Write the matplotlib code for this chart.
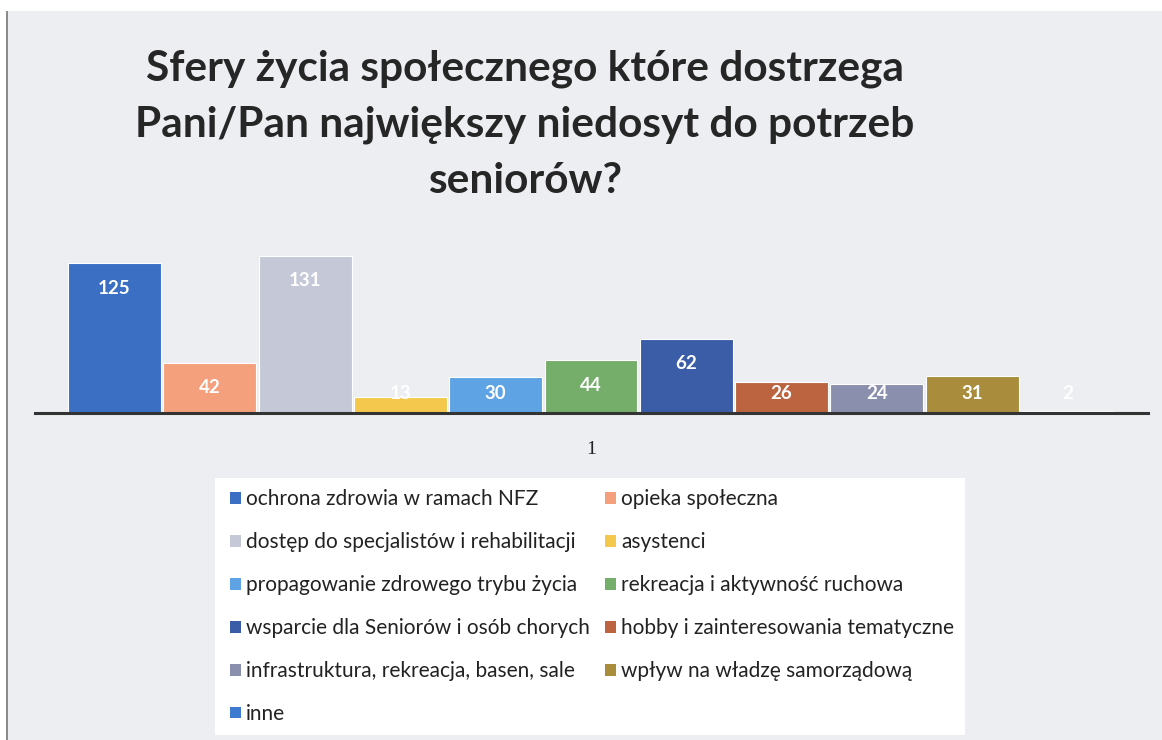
"""
Wykres słupkowy: sfery życia społecznego, w których seniorzy widzą niedosyt.
Zapisuje out.png.
"""
import matplotlib.pyplot as plt
from matplotlib.patches import Patch, Rectangle
import numpy as np

# dane
kategorie = [
    'ochrona zdrowia w ramach NFZ',
    'opieka społeczna',
    'dostęp do specjalistów i rehabilitacji',
    'asystenci',
    'propagowanie zdrowego trybu życia',
    'rekreacja i aktywność ruchowa',
    'wsparcie dla Seniorów i osób chorych',
    'hobby i zainteresowania tematyczne',
    'infrastruktura, rekreacja, basen, sale',
    'wpływ na władzę samorządową',
    'inne',
]
wartosci = [125, 42, 131, 13, 30, 44, 62, 26, 24, 31, 2]
kolory = ['#3a6fc4', '#f4a07c', '#c5c8d6', '#f3c84c', '#5ea3e3', '#75ad6a',
          '#3b5ca6', '#bc6440', '#8b8fae', '#a98d3c', '#3d7ad0']
etykieta_osi = '1'
tytul = 'Sfery życia społecznego które dostrzega\nPani/Pan największy niedosyt do potrzeb\nseniorów?'

W, H = 1162, 740
fig = plt.figure(figsize=(W / 100, H / 100), dpi=100)
fig.patch.set_facecolor('white')

# tło slajdu
fig.add_artist(Rectangle((6 / W, 0), 1, 1 - 11 / H, transform=fig.transFigure,
                         facecolor='#eceef2', edgecolor='none', zorder=-5))
fig.add_artist(Rectangle((6 / W, 0), 1.5 / W, 1 - 11 / H, transform=fig.transFigure,
                         facecolor='#8a8a8a', edgecolor='none', zorder=-4))

fig.text(525 / W, 1 - 50 / H, tytul, ha='center', va='top', fontsize=30.5,
         fontweight='bold', family='Lato', color='#262626', linespacing=1.56)

# wykres
ax = fig.add_axes([35 / W, (H - 413) / H, 1113 / W, 173 / H])
ax.set_facecolor('none')
x = np.arange(len(wartosci))
bars = ax.bar(x, wartosci, width=0.975, color=kolory, edgecolor='white', linewidth=0.8)
ax.set_xlim(-0.834, len(wartosci) - 1 + 0.845)
ax.set_ylim(0, 144)

for xi, v in zip(x, wartosci):
    ax.text(xi, max(v - 21, 16), str(v), ha='center', va='center', color='white',
            fontsize=13.5, fontweight='bold', family='Lato')

for s in ['top', 'right', 'left']:
    ax.spines[s].set_visible(False)
ax.spines['bottom'].set_color('#333333')
ax.spines['bottom'].set_linewidth(2.2)
ax.set_yticks([])
ax.set_xticks([(len(wartosci) - 1) / 2])
ax.set_xticklabels([etykieta_osi], family='Liberation Serif', fontsize=14, color='#222222')
ax.tick_params(axis='x', length=0, pad=20)

# legenda - kolejność wierszami, matplotlib wypełnia kolumnami
uchwyty = [Patch(facecolor=k, edgecolor='none') for k in kolory]
kol1 = list(range(0, len(kategorie), 2))
kol2 = list(range(1, len(kategorie), 2))
kolejnosc = kol1 + kol2
fig.add_artist(Rectangle((215 / W, 5 / H), 750 / W, 257 / H, transform=fig.transFigure,
                         facecolor='white', edgecolor='none', zorder=-3))
leg = fig.legend([uchwyty[i] for i in kolejnosc], [kategorie[i] for i in kolejnosc],
                 ncol=2, loc='upper left', bbox_to_anchor=(222 / W, 1 - 481 / H),
                 frameon=False, prop={'family': 'Lato', 'size': 15},
                 handlelength=0.5, handleheight=0.5, handletextpad=0.25,
                 labelspacing=1.1, columnspacing=0.75, borderaxespad=0)
for t in leg.get_texts():
    t.set_color('#222222')

fig.savefig('out.png', dpi=100)
